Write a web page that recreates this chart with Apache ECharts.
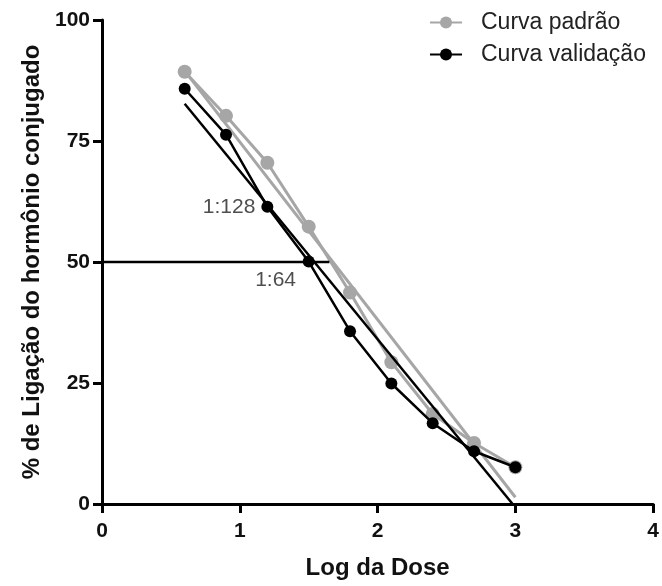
<!DOCTYPE html>
<html>
<head>
<meta charset="utf-8">
<script src="https://cdn.jsdelivr.net/npm/echarts@6/dist/echarts.min.js"></script>
<style>
  html, body { margin: 0; padding: 0; background: #fff; }
  #chart { width: 662px; height: 586px; }
</style>
</head>
<body>
<div id="chart"></div>
<script>
// log dose values and binding (%)
var logDose = [0.6, 0.9, 1.2, 1.5, 1.8, 2.1, 2.4, 2.7, 3.0];
var padrao = [89.3, 80.2, 70.5, 57.3, 43.7, 29.3, 18.6, 12.6, 7.6];
var validacao = [85.8, 76.3, 61.4, 50.1, 35.7, 24.9, 16.7, 10.9, 7.6];

// fitted lines (end points)
var padraoFit = [[0.6, 89.5], [3.0, 1.4]];
var validacaoFit = [[0.6, 82.7], [2.98, 0]];

// 50% reference line
var halfLine = [[0, 50], [1.65, 50]];

// annotations
var notes = [
    { text: '1:128', at: [1.2, 61.4], pos: 'left' },
    { text: '1:64', at: [1.26, 46.2], pos: 'inside' }
];

var xTicks = [0, 1, 2, 3, 4];
var yTicks = [0, 25, 50, 75, 100];

function pairs(xs, ys) {
    return xs.map(function (x, i) { return [x, ys[i]]; });
}

var font = 'Liberation Sans, Arial, sans-serif';
var chart = echarts.init(document.getElementById('chart'));

chart.setOption({
    animation: false,
    backgroundColor: '#fff',
    grid: { left: 102, right: 8, top: 20, bottom: 82 },
    legend: {
        orient: 'vertical',
        left: 424,
        top: 6,
        itemWidth: 32,
        itemHeight: 15,
        itemGap: 9,
        data: ['Curva padrão', 'Curva validação'],
        textStyle: { fontFamily: font, fontSize: 23, color: '#222', padding: [0, 0, 0, 14] }
    },
    xAxis: {
        type: 'value',
        min: 0,
        max: 4,
        interval: 1,
        name: 'Log da Dose',
        nameLocation: 'middle',
        nameGap: 52,
        nameTextStyle: { fontFamily: font, fontSize: 24, fontWeight: 'bold', color: '#111' },
        axisLine: { show: true, onZero: false, lineStyle: { color: '#000', width: 3 } },
        axisTick: { show: true, length: 9, lineStyle: { color: '#000', width: 3 } },
        axisLabel: { fontFamily: font, fontSize: 21, fontWeight: 'bold', color: '#111', margin: 17,
            formatter: function (v) { return xTicks.indexOf(v) >= 0 ? v : ''; } },
        splitLine: { show: false }
    },
    yAxis: {
        type: 'value',
        min: 0,
        max: 100,
        interval: 25,
        name: '% de Ligação do hormônio conjugado',
        nameLocation: 'middle',
        nameGap: 57,
        nameTextStyle: { fontFamily: font, fontSize: 24, fontWeight: 'bold', color: '#111' },
        axisLine: { show: true, onZero: false, lineStyle: { color: '#000', width: 3 } },
        axisTick: { show: true, length: 9, lineStyle: { color: '#000', width: 3 } },
        axisLabel: { fontFamily: font, fontSize: 21, fontWeight: 'bold', color: '#111', margin: 12,
            formatter: function (v) { return yTicks.indexOf(v) >= 0 ? v : ''; } },
        splitLine: { show: false }
    },
    series: [
        {
            name: 'fit padrao',
            type: 'line',
            data: padraoFit,
            symbol: 'none',
            lineStyle: { color: '#a6a6a6', width: 3 },
            z: 2
        },
        {
            name: 'Curva padrão',
            type: 'line',
            data: pairs(logDose, padrao),
            symbol: 'circle',
            symbolSize: 14,
            itemStyle: { color: '#a6a6a6' },
            lineStyle: { color: '#a6a6a6', width: 3 },
            z: 3
        },
        {
            name: 'fit validacao',
            type: 'line',
            data: validacaoFit,
            symbol: 'none',
            lineStyle: { color: '#000', width: 2.5 },
            z: 4
        },
        {
            name: 'half',
            type: 'line',
            data: halfLine,
            symbol: 'none',
            lineStyle: { color: '#000', width: 2.5 },
            z: 4
        },
        {
            name: 'Curva validação',
            type: 'line',
            data: pairs(logDose, validacao),
            symbol: 'circle',
            symbolSize: 12,
            itemStyle: { color: '#000' },
            lineStyle: { color: '#000', width: 2.5 },
            z: 5
        },
        {
            name: 'notes',
            type: 'scatter',
            symbolSize: 0,
            silent: true,
            z: 6,
            data: notes.map(function (n) {
                return {
                    value: n.at,
                    label: {
                        show: true,
                        formatter: n.text,
                        position: n.pos,
                        distance: 12,
                        fontFamily: font,
                        fontSize: 21,
                        color: '#222'
                    }
                };
            })
        }
    ]
});
</script>
</body>
</html>
